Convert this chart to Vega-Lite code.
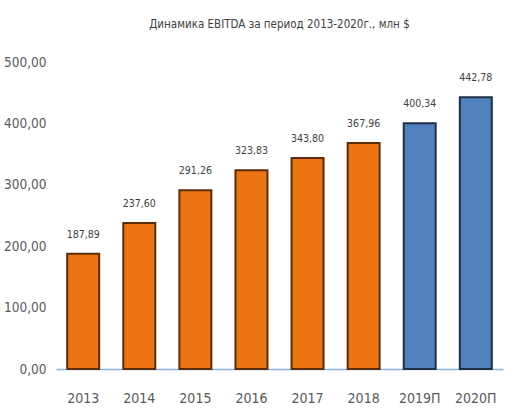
{
  "$schema": "https://vega.github.io/schema/vega-lite/v6.json",
  "autosize": {"type": "none"},
  "width": 447,
  "height": 307,
  "padding": {"left": 56, "top": 62, "right": 13, "bottom": 50},
  "background": "#ffffff",
  "title": {
    "text": "Динамика EBITDA за период 2013-2020г.,  млн $",
    "font": "DejaVu Sans Condensed, Liberation Sans, sans-serif",
    "fontSize": 11.5,
    "fontWeight": "normal",
    "color": "#404040",
    "anchor": "middle",
    "offset": 25
  },
  "data": {
    "values": [
      {"year": "2013", "ebitda": 187.89, "kind": "fact"},
      {"year": "2014", "ebitda": 237.60, "kind": "fact"},
      {"year": "2015", "ebitda": 291.26, "kind": "fact"},
      {"year": "2016", "ebitda": 323.83, "kind": "fact"},
      {"year": "2017", "ebitda": 343.80, "kind": "fact"},
      {"year": "2018", "ebitda": 367.96, "kind": "fact"},
      {"year": "2019П", "ebitda": 400.34, "kind": "forecast"},
      {"year": "2020П", "ebitda": 442.78, "kind": "forecast"}
    ]
  },
  "encoding": {
    "x": {
      "field": "year",
      "type": "nominal",
      "sort": null,
      "scale": {"paddingInner": 0.43, "paddingOuter": 0.2},
      "axis": {
        "title": null,
        "labelAngle": 0,
        "labelPadding": 22,
        "labelFontSize": 14,
        "ticks": false,
        "domainColor": "#8db3e2",
        "domainWidth": 1.5
      }
    },
    "y": {
      "field": "ebitda",
      "type": "quantitative",
      "scale": {"domain": [0, 500]},
      "axis": {
        "title": null,
        "values": [0, 100, 200, 300, 400, 500],
        "format": ".2f",
        "labelPadding": 10,
        "labelFontSize": 13.5,
        "ticks": false,
        "domain": false,
        "grid": false
      }
    }
  },
  "layer": [
    {
      "mark": {"type": "bar", "strokeWidth": 2},
      "encoding": {
        "color": {
          "field": "kind",
          "type": "nominal",
          "scale": {"domain": ["fact", "forecast"], "range": ["#ed7410", "#4f81bd"]},
          "legend": null
        },
        "stroke": {
          "field": "kind",
          "type": "nominal",
          "scale": {"domain": ["fact", "forecast"], "range": ["#5a2d08", "#1f2f45"]},
          "legend": null
        }
      }
    },
    {
      "mark": {"type": "text", "dy": -19, "fontSize": 10.5, "color": "#404040", "font": "DejaVu Sans Condensed, Liberation Sans, sans-serif"},
      "encoding": {
        "text": {"field": "ebitda", "type": "quantitative", "format": ".2f"}
      }
    }
  ],
  "config": {
    "locale": {
      "number": {"decimal": ",", "thousands": " ", "grouping": [3], "currency": ["", " $"]}
    },
    "view": {"stroke": null},
    "axis": {
      "labelFont": "DejaVu Sans Condensed, Liberation Sans, sans-serif",
      "labelColor": "#595959"
    }
  }
}
